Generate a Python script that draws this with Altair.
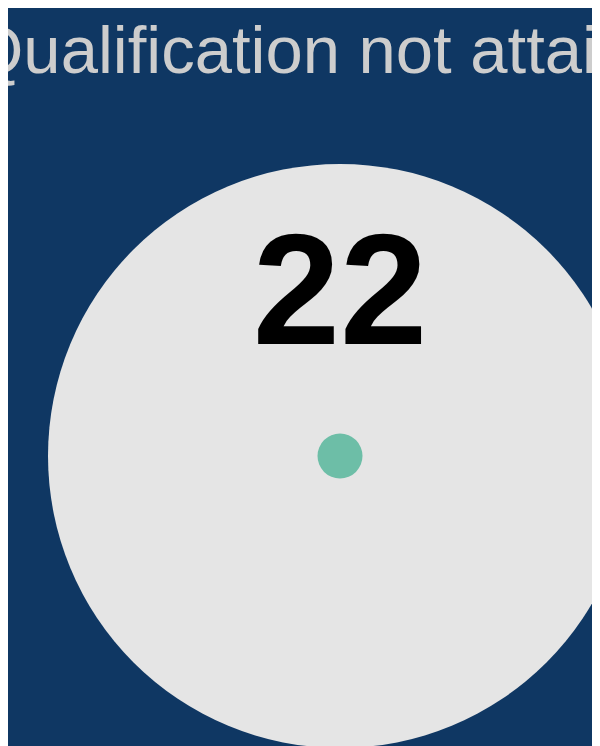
import altair as alt
import pandas as pd

# --- data ---
titles = ["Qualification not attained"]
values = [22]
labels = ["22"]

df = pd.DataFrame({"label": labels, "value": values})

base = alt.Chart(df)

disc = base.mark_arc(radius=292, color="#e5e5e5", stroke=None).encode(
    theta=alt.Theta("value:Q", stack=True)
)

number = base.mark_text(
    fontSize=157,
    fontWeight="bold",
    font="Liberation Sans",
    color="#000000",
    baseline="alphabetic",
    align="center",
    dy=-112,
).encode(text=alt.Text("label:N"))

dot = base.mark_circle(size=2025, color="#6dbea7", opacity=1).encode(
    detail=alt.Detail("label:N")
)

chart = (
    alt.layer(disc, number, dot)
    .properties(
        width=504,
        height=580,
        title=alt.Title(
            titles[0],
            fontSize=67,
            font="Liberation Sans",
            fontWeight="normal",
            color="#cdcdcd",
            anchor="middle",
            frame="group",
            offset=77,
        ),
        background="#0f3763",
        padding={"left": 80, "top": 158, "right": 0, "bottom": 8},
        autosize=alt.AutoSizeParams(type="none"),
    )
    .configure_view(stroke=None)
)

chart.save("out.html", embed_options={"renderer": "svg", "actions": False})
